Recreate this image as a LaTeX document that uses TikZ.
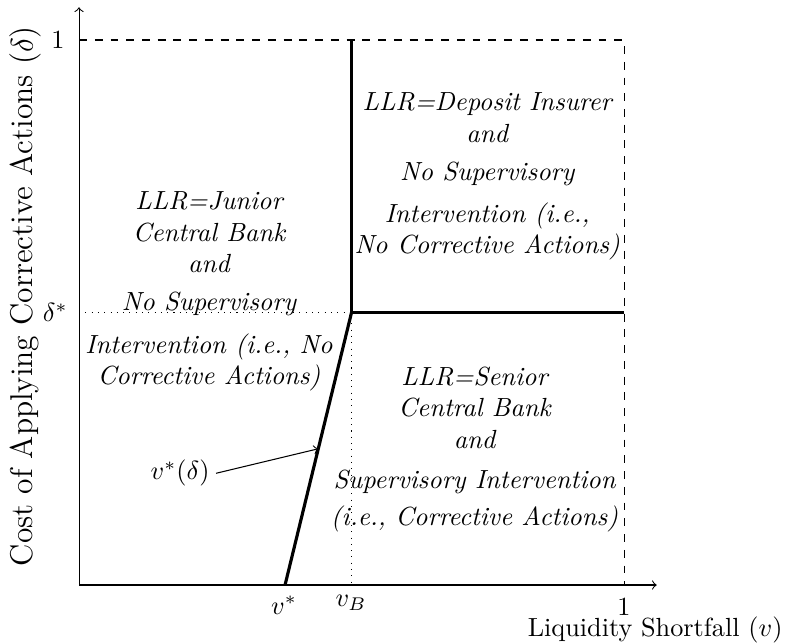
\documentclass[tikz,border=0pt]{standalone}
\usetikzlibrary{calc}
\begin{document}
\begin{tikzpicture}[x=7.3cm,y=7.3cm,
  bound/.style={very thick},
  region/.style={align=center,font=\itshape,inner sep=0pt,anchor=north},
  lbl/.style={inner sep=0pt}]
\useasboundingbox (-0.145,-0.108) rectangle (1.299,1.0734);
\coordinate (O) at (0,0);
\coordinate (Xend) at (1.06,0);
\coordinate (Yend) at (0,1.06);
\coordinate (vs) at (0.378,0);
\coordinate (D) at (0.5,0.5);
\coordinate (DT) at (0.5,1);
\coordinate (DR) at (1,0.5);
\coordinate (TL) at (0,1);
\coordinate (TR) at (1,1);
\coordinate (BR) at (1,0);
\coordinate (DL) at (0,0.5);
\coordinate (DB) at (0.5,0);
\coordinate (mid) at ($(vs)!0.5!(D)$);
% axes
\draw[->] (O) -- (Xend);
\draw[->] (O) -- (Yend);
% frame and guides
\draw[dashed] (TL) -- (TR) -- (BR);
\draw[dotted] (DL) -- (D) -- (DB);
% boundaries
\draw[bound] (DT) -- (D) -- (DR);
\draw[bound] (vs) -- (D);
% tick labels
\node[lbl, anchor=east] (oney) at (-0.0257,1) {1};
\node[lbl, anchor=east] (dstar) at (-0.02,0.5) {$\delta^*$};
\node[lbl, anchor=north] (vstar) at (0.376,-0.02) {$v^*$};
\node[lbl, anchor=north] (vB) at (0.499,-0.018) {$v_B$};
\node[lbl, anchor=north] (onex) at (1,-0.022) {1};
% axis labels
\node[lbl, anchor=base east] (xlab) at (1.2917,-0.094) {Liquidity Shortfall $(v)$};
\node[lbl, rotate=90, font=\large] (ylab) at (-0.099,0.53) {Cost of Applying Corrective Actions $(\delta)$};
% curve label
\node[anchor=east, inner sep=2.3pt] (vlab) at (0.2514,0.205) {$v^*(\delta)$};
\draw[->] (vlab.east) -- (mid);
% regions
\node[region] (junior) at (0.2385,0.7228) {LLR=Junior\\Central Bank\\and\\[2.6pt]No Supervisory\\[4.2pt]Intervention (i.e., No\\Corrective Actions)};
\node[region] (deposit) at (0.749,0.9044) {LLR=Deposit Insurer\\and\\[2.6pt]No Supervisory\\[4pt]Intervention (i.e.,\\No Corrective Actions)};
\node[region] (senior) at (0.7257,0.401) {LLR=Senior\\Central Bank\\and\\[3.2pt]Supervisory Intervention\\[2pt](i.e., Corrective Actions)};
\end{tikzpicture}
\end{document}
